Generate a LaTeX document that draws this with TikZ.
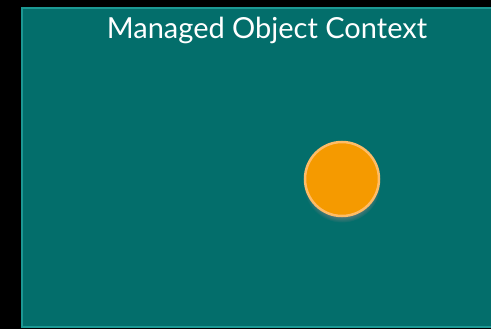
\documentclass[tikz,border=0pt]{standalone}
\usepackage{fontspec}
\setmainfont{Lato}
\usetikzlibrary{shadows}
\definecolor{ctxfill}{HTML}{036E6B}
\definecolor{ctxedge}{HTML}{1C9893}
\definecolor{objfill}{HTML}{F59A00}
\definecolor{objedge}{HTML}{FFBC66}

\begin{document}
\begin{tikzpicture}[x=1pt,y=-1pt]
\tikzstyle{every node}+=[inner sep=0pt]
\tikzstyle{objstyle}=[circle, minimum size=74pt, fill=objfill, draw=objedge, line width=2.5pt, circular drop shadow={shadow xshift=0pt, shadow yshift=-5pt, shadow scale=1.04, opacity=0.6}]
\useasboundingbox (0,0) rectangle (491,329);
\fill [black] (0,0) rectangle (491,329);
\fill [ctxfill, draw=ctxedge, line width=2pt] (22,8) rectangle (495,327);
\draw (267,30) node[text=white, font=\fontsize{29}{34}\selectfont] (title) {Managed Object Context};
\draw (342,179) node[objstyle] (obj) {};
\end{tikzpicture}
\end{document}
